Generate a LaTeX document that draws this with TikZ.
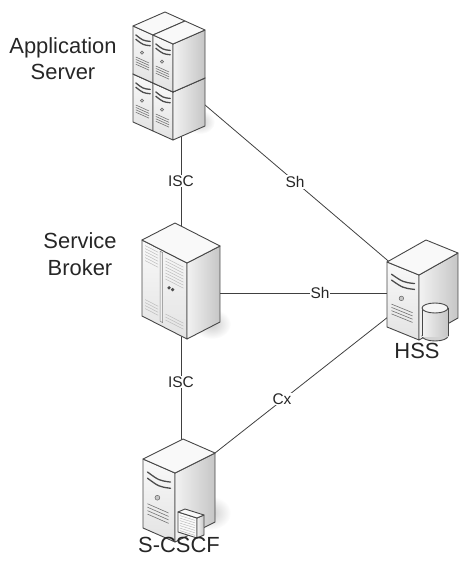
\documentclass[tikz,border=0pt]{standalone}
\usepackage{fontspec}
\setmainfont{Liberation Sans}
\usetikzlibrary{calc}
\tikzset{
 outl/.style={draw=black!72, line width=0.9pt, line join=round},
 frontf/.style={outl, top color=gray!5, bottom color=gray!22},
 sidef/.style={outl, left color=gray!10, right color=gray!45},
 topf/.style={outl, fill=gray!5},
 bay/.style={draw=black!70, line width=1.3pt, line cap=round},
 grille/.style={draw=black!55, line width=0.6pt},
 vent/.style={draw=gray!55, line width=0.45pt},
 conn/.style={draw=black!75, line width=0.8pt},
 lbl/.style={fill=white, inner sep=1pt, font=\fontsize{15.5}{18}\selectfont, text=black!85},
 devlabel/.style={align=center, font=\fontsize{22}{27}\selectfont, text=black!85, inner sep=0pt, anchor=base},
 dropsh/.style={inner color=gray!40, outer color=white},
}
\newcommand\isobox[5]{%
 \coordinate (#1L) at #2;
 \coordinate (#1F) at ($(#1L)+#3$);
 \coordinate (#1R) at ($(#1F)+#4$);
 \coordinate (#1B) at ($(#1L)+#4$);
 \coordinate (#1Lb) at ($(#1L)+(0,#5)$);
 \coordinate (#1Fb) at ($(#1F)+(0,#5)$);
 \coordinate (#1Rb) at ($(#1R)+(0,#5)$);
}
\newcommand\facefront[1]{\path[frontf] (#1L)--(#1F)--(#1Fb)--(#1Lb)--cycle;}
\newcommand\faceside[1]{\path[sidef] (#1F)--(#1R)--(#1Rb)--(#1Fb)--cycle;}
\newcommand\facetop[1]{\path[topf] (#1L)--(#1F)--(#1R)--(#1B)--cycle;}
\newcommand\towerdeco[2]{%
 \draw[bay] ($(#1L)!0.14!(#1F)+(0,0.16*#2)$) .. controls ($(#1L)!0.5!(#1F)+(0,0.16*#2+0.05*#2)$) .. ($(#1L)!0.86!(#1F)+(0,0.16*#2)$);
 \draw[bay] ($(#1L)!0.14!(#1F)+(0,0.25*#2)$) .. controls ($(#1L)!0.5!(#1F)+(0,0.25*#2+0.05*#2)$) .. ($(#1L)!0.86!(#1F)+(0,0.25*#2)$);
 \filldraw[draw=black!60, fill=gray!45, line width=0.5pt] ($(#1L)!0.45!(#1F)+(0,0.47*#2)$) circle[radius=0.035*#2];
 \foreach \v in {0.62,0.67,0.72,0.77}
   \draw[grille] ($(#1L)!0.14!(#1F)+(0,\v*#2)$) -- ($(#1L)!0.8!(#1F)+(0,\v*#2)$);
}
\begin{document}
\begin{tikzpicture}[x=1bp,y=-1bp]
\useasboundingbox (0,0) rectangle (459,562);
% ---------- connector end points
\coordinate (as-isc) at (181,125);
\coordinate (sb-isc1) at (181,240);
\coordinate (sb-isc2) at (181,320);
\coordinate (sc-isc) at (181,470);
\coordinate (as-sh) at (180,83.7);
\coordinate (hss-sh1) at (420,288);
\coordinate (sb-sh) at (200,293);
\coordinate (hss-sh2) at (420,293);
\coordinate (sc-cx) at (200,464.8);
\coordinate (hss-cx) at (420,291.8);
% ---------- connectors
\draw[conn] (as-isc) -- (sb-isc1);
\draw[conn] (sb-isc2) -- (sc-isc);
\draw[conn] (as-sh) -- (hss-sh1);
\draw[conn] (sb-sh) -- (hss-sh2);
\draw[conn] (sc-cx) -- (hss-cx);
% ---------- Application Server (stack of four towers)
\shade[dropsh] (200,122) ellipse [x radius=15, y radius=12];
\isobox{aa}{(133,74)}{(20,9)}{(32,-14)}{48}
\isobox{ab}{(153,83)}{(20,9)}{(32,-14)}{48}
\isobox{ac}{(133,26)}{(20,9)}{(32,-14)}{48}
\isobox{ad}{(153,35)}{(20,9)}{(32,-14)}{48}
\facefront{aa}\facetop{aa}\towerdeco{aa}{48}
\facefront{ab}\faceside{ab}\facetop{ab}\towerdeco{ab}{48}
\facefront{ac}\facetop{ac}\towerdeco{ac}{48}
\facefront{ad}\faceside{ad}\facetop{ad}\towerdeco{ad}{48}
% ---------- Service Broker (cabinet)
\shade[dropsh] (212,324) ellipse [x radius=19, y radius=15];
\isobox{sb}{(142,240)}{(45,23)}{(33,-17)}{76}
\facefront{sb}\faceside{sb}\facetop{sb}
\path[draw=black!50, fill=gray!12, line width=0.5pt]
  ($(sbL)!0.40!(sbF)+(0,2)$) -- ($(sbL)!0.46!(sbF)+(0,2)$) --
  ($(sbL)!0.46!(sbF)+(0,72)$) -- ($(sbL)!0.40!(sbF)+(0,72)$) -- cycle;
\foreach \v in {4,7,...,19}
  \draw[vent] ($(sbL)!0.07!(sbF)+(0,\v)$) -- ($(sbL)!0.36!(sbF)+(0,\v)$);
\foreach \v in {58,61,...,67}
  \draw[vent] ($(sbL)!0.07!(sbF)+(0,\v)$) -- ($(sbL)!0.36!(sbF)+(0,\v)$);
\foreach \v in {6,9,...,27}
  \draw[vent] ($(sbL)!0.52!(sbF)+(0,\v)$) -- ($(sbL)!0.92!(sbF)+(0,\v)$);
\foreach \v in {62,65,68}
  \draw[vent] ($(sbL)!0.52!(sbF)+(0,\v)$) -- ($(sbL)!0.92!(sbF)+(0,\v)$);
\fill[black!70] ($(sbL)!0.60!(sbF)+(0,34)$) circle[radius=1.8];
\fill[black!70] ($(sbL)!0.68!(sbF)+(0,34)$) circle[radius=1.8];
% ---------- HSS
\isobox{hs}{(387,262)}{(32,13)}{(39,-22)}{65}
\facefront{hs}\faceside{hs}\facetop{hs}\towerdeco{hs}{65}
\path[outl, fill=gray!35] (435,336) ellipse [x radius=13, y radius=5];
\path[left color=gray!10, right color=gray!45] (422,308) rectangle (448,336);
\draw[outl] (422,308) -- (422,336);
\draw[outl] (448,308) -- (448,336);
\path[outl, fill=gray!8] (435,308) ellipse [x radius=13, y radius=5];
% ---------- S-CSCF
\shade[dropsh] (210,513) ellipse [x radius=21, y radius=17];
\isobox{sc}{(143,459)}{(32,14)}{(40,-20)}{69}
\facefront{sc}\faceside{sc}\facetop{sc}\towerdeco{sc}{69}
\isobox{sx}{(178,512)}{(19,6)}{(7,-3)}{20}
\path[outl, fill=gray!4] (sxL)--(sxF)--(sxFb)--(sxLb)--cycle;
\faceside{sx}\facetop{sx}
\foreach \v in {3,5.5,...,18}
  \draw[vent] ($(sxL)!0.1!(sxF)+(0,\v)$) -- ($(sxL)!0.9!(sxF)+(0,\v)$);
% ---------- labels
\node[lbl] (isc1) at (181,181) {ISC};
\node[lbl] (isc2) at (181,382) {ISC};
\node[lbl] (sh1) at (295,182) {Sh};
\node[lbl] (sh2) at (320,293) {Sh};
\node[lbl] (cx) at (282,399) {Cx};
\node[devlabel] (asname) at (63,80) {Application\\Server};
\node[devlabel] (sbname) at (80,275) {Service\\Broker};
\node[devlabel] (hssname) at (417,358) {HSS};
\node[devlabel] (scname) at (179,552.5) {S-CSCF};
\end{tikzpicture}
\end{document}
